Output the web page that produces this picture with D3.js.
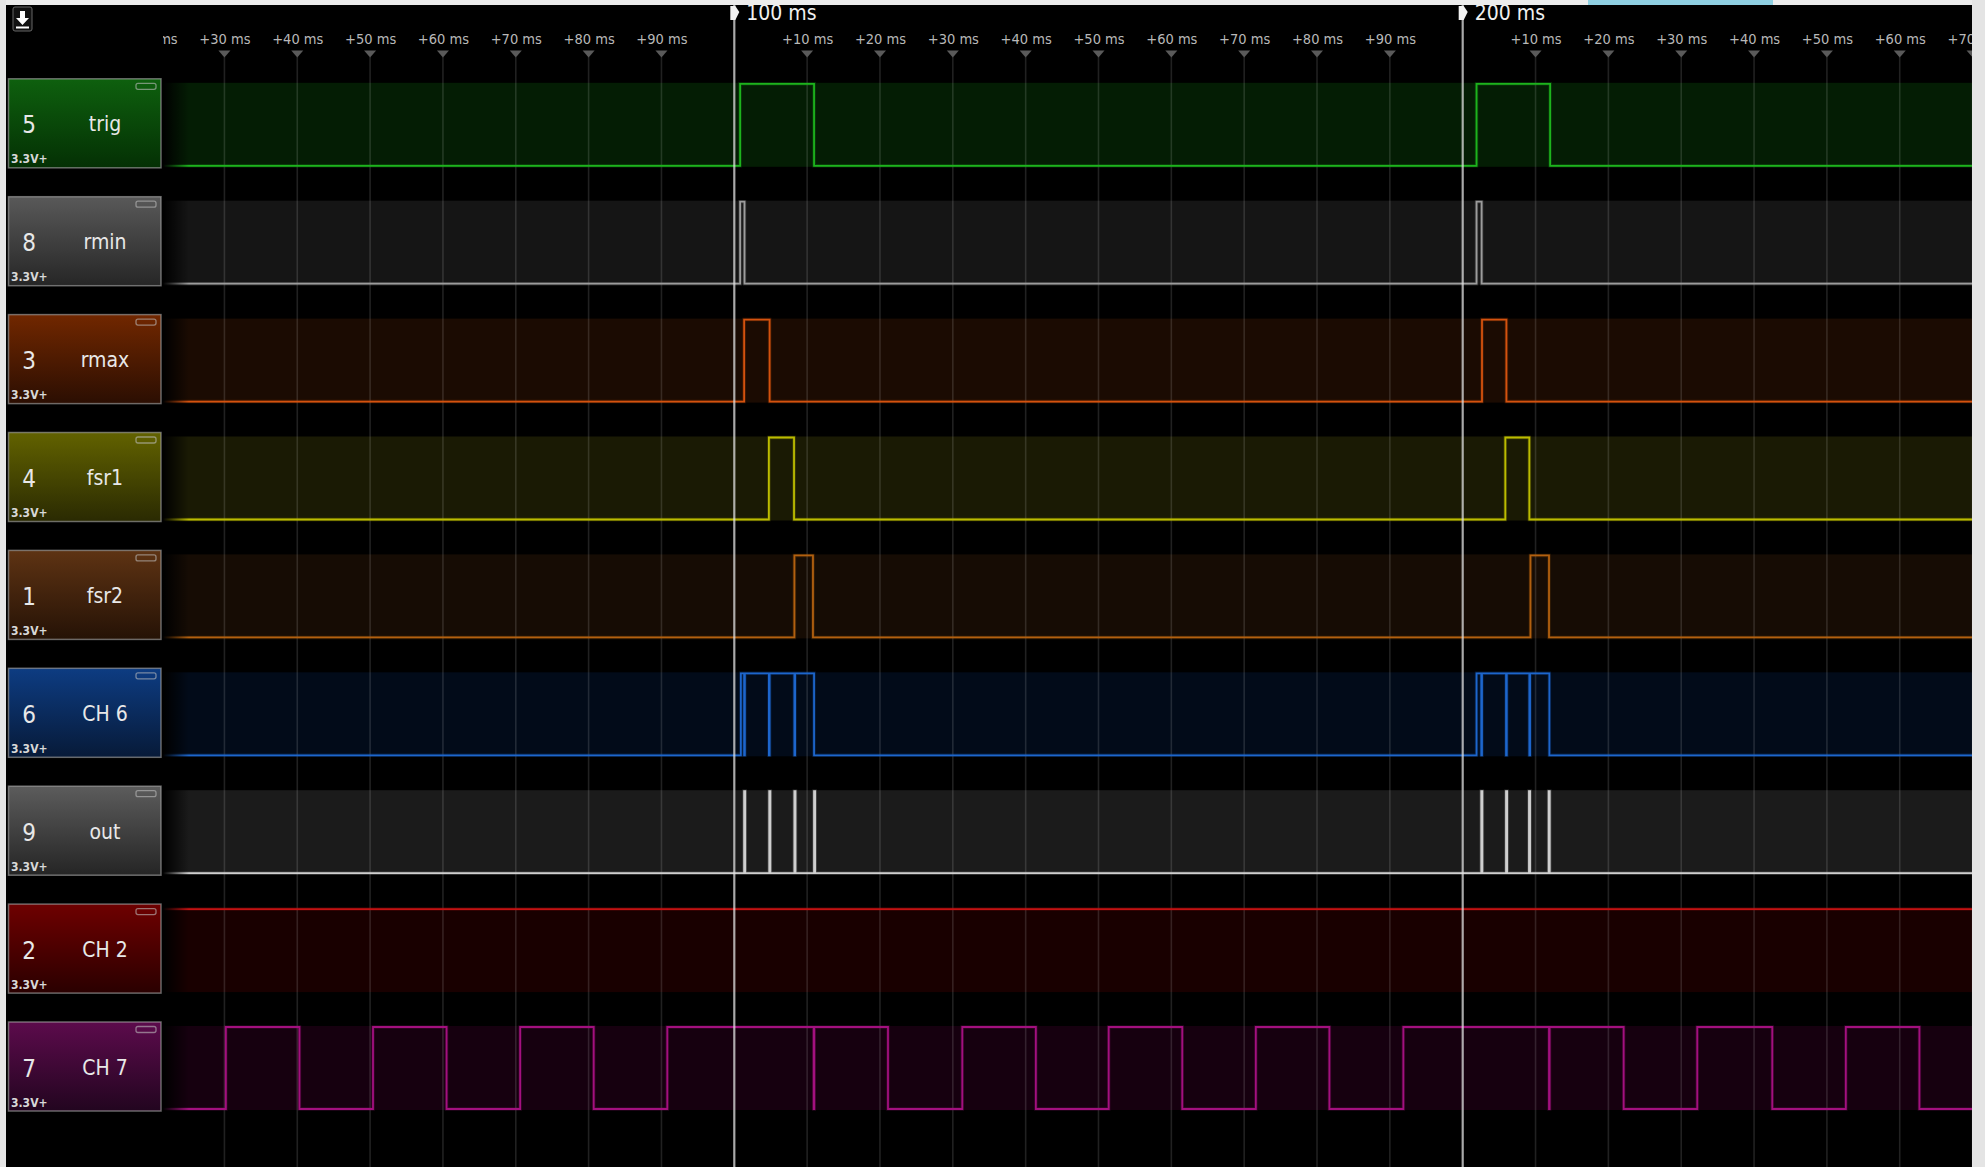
<!DOCTYPE html>
<html>
<head>
<meta charset="utf-8">
<script src="https://cdn.jsdelivr.net/npm/d3@7"></script>
<style>
  html, body { margin: 0; padding: 0; background: #000; overflow: hidden; }
  svg { display: block; }
  text { font-family: "DejaVu Sans Condensed", "DejaVu Sans", sans-serif; font-stretch: condensed; }
</style>
</head>
<body>
<svg id="chart" width="1985" height="1167"></svg>
<script>
// ---- Channel list (top to bottom) ----
const channelIds   = [5, 8, 3, 4, 1, 6, 9, 2, 7];
const channelNames = ["trig", "rmin", "rmax", "fsr1", "fsr2", "CH 6", "out", "CH 2", "CH 7"];
const channelRange = "3.3V+";

// ---- Captured logic levels: intervals (ms) where each channel is high ----
const trigHigh = [[100.8, 110.95], [201.9, 212.0]];
const rminHigh = [[100.8, 101.4], [201.9, 202.6]];
const rmaxHigh = [[101.35, 104.85], [202.65, 206.0]];
const fsr1High = [[104.75, 108.2], [205.85, 209.15]];
const fsr2High = [[108.25, 110.8], [209.3, 211.85]];
const ch6High  = [[100.9, 101.35], [101.45, 104.75], [104.85, 108.25], [108.35, 110.95],
                  [201.9, 202.55], [202.65, 205.95], [206.05, 209.15], [209.25, 211.9]];
const outHigh  = [[101.35, 101.5], [104.8, 104.95], [108.25, 108.4], [110.95, 111.1],
                  [202.55, 202.7], [205.95, 206.1], [209.1, 209.25], [211.8, 211.95]];
const ch2High  = [[0, 300]];
const ch7High  = [[30.2, 40.3], [50.4, 60.5], [70.6, 80.7], [90.8, 110.9], [110.98, 121.1],
                  [131.3, 141.4], [151.4, 161.5], [171.6, 181.7], [191.85, 211.85],
                  [211.93, 222.1], [232.2, 242.5], [252.6, 262.7]];
const channelHighs = [trigHigh, rminHigh, rmaxHigh, fsr1High, fsr2High, ch6High, outHigh, ch2High, ch7High];

// ---- Time ruler ----
const minorTicks = [20, 30, 40, 50, 60, 70, 80, 90, 110, 120, 130, 140, 150, 160, 170, 180, 190,
                    210, 220, 230, 240, 250, 260, 270];
const majorTicks = [100, 200];
const majorLabels = ["100 ms", "200 ms"];

// ---- Palette ----
const lineColors  = ["#1db31d", "#9c9c9c", "#d4520e", "#bcbc00", "#b2600f", "#1d66cc", "#cfcfcf", "#c41212", "#a3107f"];
const bandColors  = ["#041d04", "#151515", "#1b0b02", "#1a1a04", "#160c04", "#020b19", "#1b1b1b", "#190000", "#16000f"];
const panelTops   = ["#0e600e", "#595959", "#712700", "#626200", "#5e3313", "#0d3c82", "#5c5c5c", "#6e0000", "#5c0b4c"];
const panelBottoms= ["#043004", "#262626", "#2b0e02", "#2a2a02", "#251206", "#071a38", "#252525", "#2a0000", "#22051f"];

const W = 1985, H = 1167;
const plotLeft = 163, plotRight = 1972;

const svg = d3.select("#chart");
const defs = svg.append("defs");

const x = d3.scaleLinear().domain([100, 200]).range([734.3, 1462.7]);
const row = d3.scaleLinear().domain([0, 1]).range([78.3, 196.2]);

defs.append("clipPath").attr("id", "plotClip")
  .append("rect").attr("x", plotLeft).attr("y", 0).attr("width", plotRight - plotLeft).attr("height", H);

// fade at the left edge of the waveform area
const fade = defs.append("linearGradient").attr("id", "leftFade")
  .attr("x1", 0).attr("x2", 1).attr("y1", 0).attr("y2", 0);
fade.append("stop").attr("offset", "0%").attr("stop-color", "#000").attr("stop-opacity", 1);
fade.append("stop").attr("offset", "100%").attr("stop-color", "#000").attr("stop-opacity", 0);

channelIds.forEach((id, i) => {
  const g = defs.append("linearGradient").attr("id", "panel" + i)
    .attr("x1", 0).attr("x2", 0).attr("y1", 0).attr("y2", 1);
  g.append("stop").attr("offset", "0%").attr("stop-color", panelTops[i]);
  g.append("stop").attr("offset", "100%").attr("stop-color", panelBottoms[i]);
});

svg.append("rect").attr("width", W).attr("height", H).attr("fill", "#000");

const plot = svg.append("g").attr("clip-path", "url(#plotClip)");

// channel bands
plot.selectAll("rect.band").data(channelIds).join("rect")
  .attr("class", "band")
  .attr("x", plotLeft).attr("width", plotRight - plotLeft)
  .attr("y", (d, i) => row(i) + 4.5).attr("height", 84)
  .attr("fill", (d, i) => bandColors[i]);

// grid lines
plot.selectAll("line.grid").data(minorTicks).join("line")
  .attr("class", "grid")
  .attr("x1", d => x(d)).attr("x2", d => x(d))
  .attr("y1", 57).attr("y2", H)
  .attr("stroke", "rgba(255,255,255,0.13)").attr("stroke-width", 1.6);

// waveforms
const toSteps = highs => {
  const pts = [[0, 0]];
  highs.forEach(([s, e]) => { pts.push([s, 1]); pts.push([e, 0]); });
  pts.push([300, 0]);
  return pts;
};
channelHighs.forEach((highs, i) => {
  const y = d3.scaleLinear().domain([0, 1]).range([row(i) + 87.5, row(i) + 5.5]);
  const line = d3.line().x(d => x(d[0])).y(d => y(d[1])).curve(d3.curveStepAfter);
  plot.append("path").datum(toSteps(highs))
    .attr("d", line).attr("fill", "none")
    .attr("stroke", lineColors[i]).attr("stroke-opacity", 0.22).attr("stroke-width", 3.5);
  plot.append("path").datum(toSteps(highs))
    .attr("d", line).attr("fill", "none")
    .attr("stroke", lineColors[i]).attr("stroke-width", 1.8).attr("stroke-linejoin", "miter");
});

plot.append("rect").attr("x", plotLeft).attr("y", 60).attr("width", 26).attr("height", H)
  .attr("fill", "url(#leftFade)");

// major markers
plot.selectAll("line.major").data(majorTicks).join("line")
  .attr("class", "major")
  .attr("x1", d => x(d)).attr("x2", d => x(d))
  .attr("y1", 0).attr("y2", H)
  .attr("stroke", "rgba(225,225,225,0.75)").attr("stroke-width", 2.2);

// ruler labels
const axis = d3.axisTop(x).tickValues(minorTicks).tickSize(0)
  .tickFormat(d => "+" + (d % 100) + " ms");
const axisG = plot.append("g").attr("transform", "translate(0,44)").call(axis);
axisG.select(".domain").remove();
axisG.selectAll("text").attr("fill", "#b8b8b8").attr("font-size", 14.5).attr("y", 0).attr("dy", 0);

plot.selectAll("path.tri").data(minorTicks).join("path")
  .attr("class", "tri")
  .attr("d", d => `M${x(d) - 6},50.5 L${x(d) + 6},50.5 L${x(d)},57.5 Z`)
  .attr("fill", "#5a5a5a");

plot.selectAll("path.flag").data(majorTicks).join("path")
  .attr("class", "flag")
  .attr("d", d => `M${x(d) - 4},6 L${x(d) + 1},6 L${x(d) + 5},12 L${x(d) + 1},20 L${x(d) - 4},20 Z`)
  .attr("fill", "#f2f2f2");

plot.selectAll("text.majorLabel").data(majorTicks).join("text")
  .attr("class", "majorLabel")
  .attr("x", d => x(d) + 12).attr("y", 20)
  .attr("fill", "#f0f0f0").attr("font-size", 21)
  .text((d, i) => majorLabels[i]);

// channel label panels
const panels = svg.selectAll("g.panel").data(channelIds).join("g")
  .attr("class", "panel")
  .attr("transform", (d, i) => `translate(8,${row(i)})`);
panels.append("rect")
  .attr("x", 0.5).attr("y", 0.5).attr("width", 152.5).attr("height", 89)
  .attr("fill", (d, i) => `url(#panel${i})`)
  .attr("stroke", "rgba(170,170,170,0.6)").attr("stroke-width", 1.5);
panels.append("rect")
  .attr("x", 128).attr("y", 5).attr("width", 20).attr("height", 6).attr("rx", 2)
  .attr("fill", "none").attr("stroke", "rgba(190,190,190,0.6)").attr("stroke-width", 1.3);
panels.append("text")
  .attr("x", 21).attr("y", 55).attr("text-anchor", "middle")
  .attr("fill", "#e8e8e8").attr("font-size", 24)
  .text(d => d);
panels.append("text")
  .attr("x", 97).attr("y", 53).attr("text-anchor", "middle")
  .attr("fill", "#e8e8e8").attr("font-size", 21)
  .text((d, i) => channelNames[i]);
panels.append("text")
  .attr("x", 3).attr("y", 85)
  .attr("fill", "#d8d8d8").attr("font-size", 12).attr("font-weight", "bold")
  .text(channelRange);

// download button
svg.append("rect").attr("x", 13).attr("y", 7).attr("width", 19).attr("height", 24).attr("rx", 2)
  .attr("fill", "#111").attr("stroke", "#666").attr("stroke-width", 1);
svg.append("path")
  .attr("d", "M20,11 L25,11 L25,18 L29,18 L22.5,25 L16,18 L20,18 Z M16,26.5 L29,26.5 L29,28.5 L16,28.5 Z")
  .attr("fill", "#fff");

// window frame
svg.append("rect").attr("x", 0).attr("y", 0).attr("width", W).attr("height", 5).attr("fill", "#ececec");
svg.append("rect").attr("x", 1588).attr("y", 0).attr("width", 185).attr("height", 5).attr("fill", "#8fd0e2");
svg.append("rect").attr("x", 0).attr("y", 0).attr("width", 6).attr("height", H).attr("fill", "#e6e6e6");
svg.append("rect").attr("x", plotRight).attr("y", 0).attr("width", W - plotRight).attr("height", H).attr("fill", "#e4e4e4");
</script>
</body>
</html>
